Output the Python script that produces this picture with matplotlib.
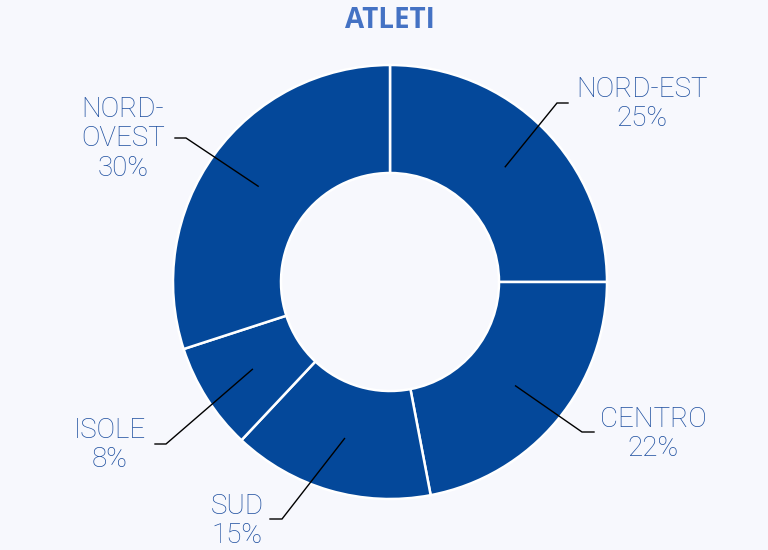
import matplotlib
matplotlib.use('Agg')
import matplotlib.pyplot as plt
import numpy as np

# data, clockwise from 12 o'clock
regions = ['NORD-EST', 'CENTRO', 'SUD', 'ISOLE', 'NORD-\nOVEST']
shares = [25, 22, 15, 8, 30]

BG = '#F7F8FD'
BLUE = '#04489A'
TXT = '#1D4E9F'
W, H = 768, 550

# layout in pixel coords (top-down): leader elbow, leader end, text centre
elbows = [(557, 103), (582, 432), (282, 519), (166, 444), (186, 138)]
ends = [(568, 103), (594, 432), (270, 519), (155, 444), (175, 138)]
text_pos = [(642, 104), (653, 434), (237, 521), (110, 445), (123, 139)]

cx, cy, r_out, ring = 390, 282, 217, 108

fig = plt.figure(figsize=(W / 100, H / 100), dpi=100, facecolor=BG)
ax = fig.add_axes([0, 0, 1, 1])
ax.set_facecolor(BG)

ax.pie(shares, startangle=90, counterclock=False, radius=r_out,
       center=(cx, H - cy), colors=[BLUE] * len(shares),
       wedgeprops=dict(width=ring, edgecolor='white', linewidth=1.8))

total = float(sum(shares))
cum = np.cumsum([0] + shares[:-1])
r_mid = r_out - ring / 2
for i, (name, v) in enumerate(zip(regions, shares)):
    ang = np.deg2rad(90 - 360 * (cum[i] + v / 2) / total)
    x0, y0 = cx + r_mid * np.cos(ang), (H - cy) + r_mid * np.sin(ang)
    ex, ey = elbows[i]
    fx, fy = ends[i]
    ax.plot([x0, ex, fx], [y0, H - ey, H - fy], color='black', lw=1.0,
            solid_joinstyle='miter')
    tx, ty = text_pos[i]
    ax.text(tx, H - ty, f'{name}\n{v}%', ha='center', va='center',
            ma='center', color=TXT, fontsize=20, family='Roboto',
            fontweight='light', linespacing=1.12)

ax.text(390, H - 21, 'ATLETI', ha='center', va='center', color='#4472C4',
        fontsize=20, fontweight='bold', family='Open Sans')

ax.set_xlim(0, W)
ax.set_ylim(0, H)
ax.set_aspect('equal')
ax.axis('off')

plt.savefig('out.png', dpi=100, facecolor=BG)
